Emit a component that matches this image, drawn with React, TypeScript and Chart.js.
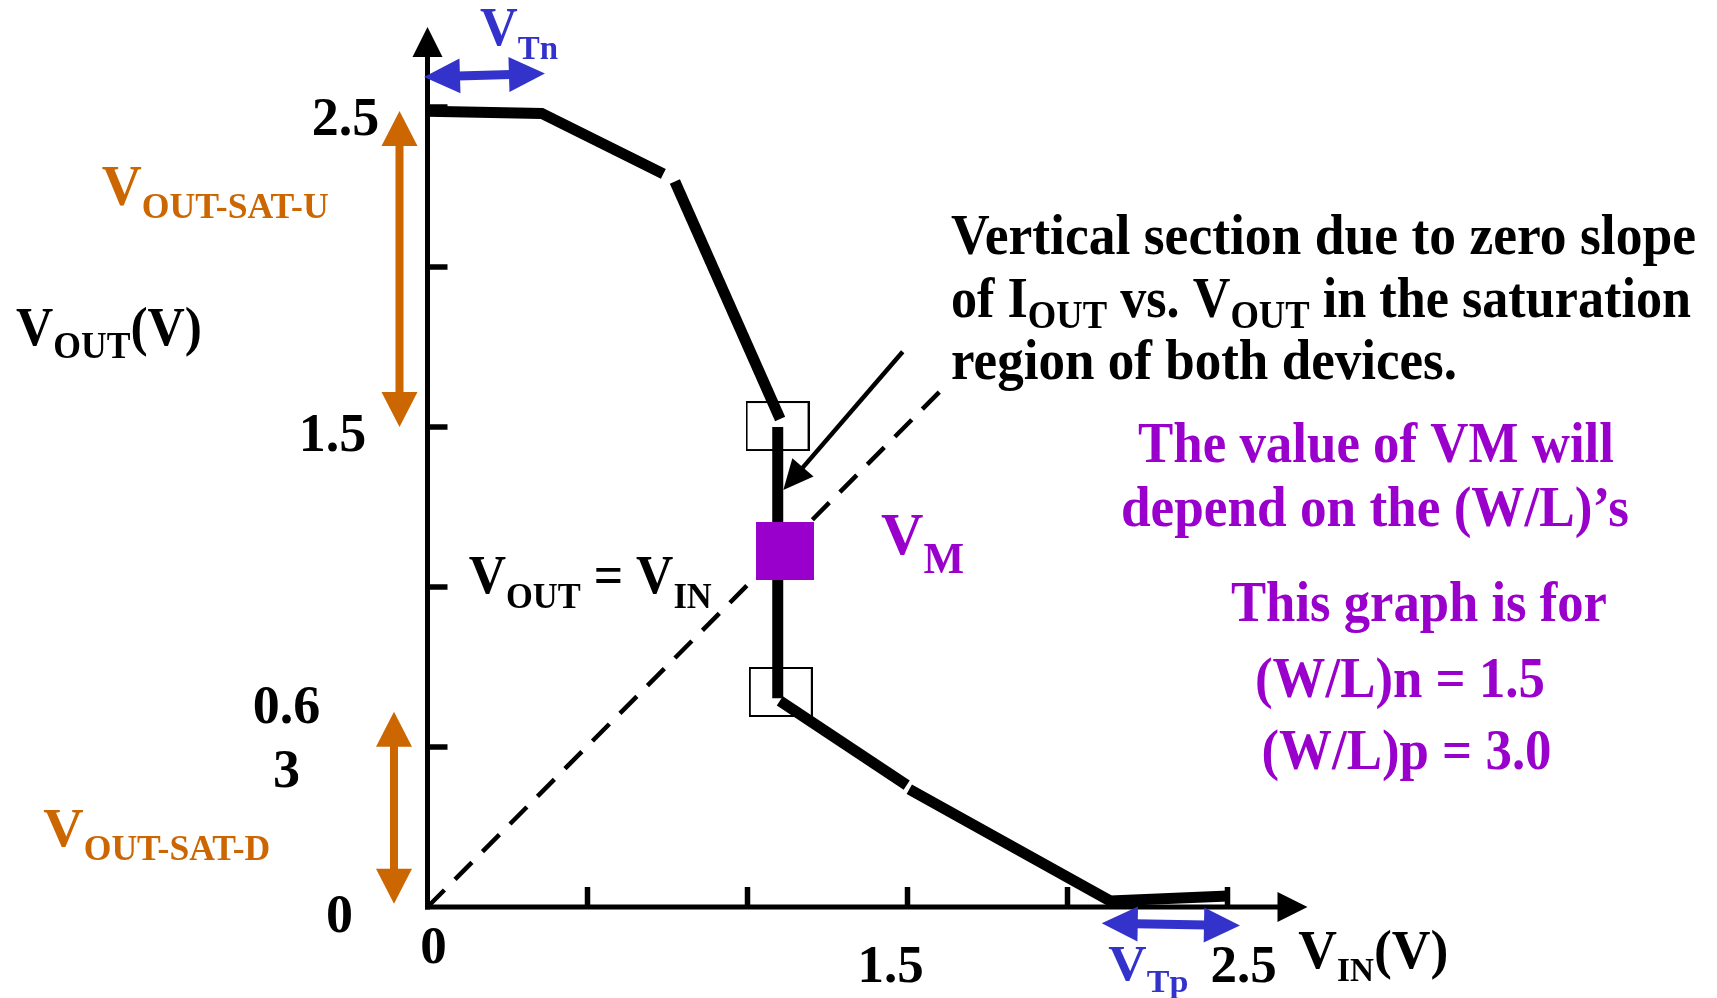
import React, { useEffect, useRef } from "react";
import { Chart, registerables } from "chart.js";

Chart.register(...registerables);

// ---------------- data (V_IN, V_OUT in volts) ----------------
const curveUpperA = [
  { x: 0, y: 2.487 },
  { x: 0.357, y: 2.48 },
  { x: 0.737, y: 2.291 },
];
const curveUpperB = [
  { x: 0.773, y: 2.267 },
  { x: 1.102, y: 1.525 },
];
const curveVertical = [
  { x: 1.0945, y: 1.5 },
  { x: 1.0945, y: 0.652 },
];
const curveLowerA = [
  { x: 1.101, y: 0.644 },
  { x: 1.4975, y: 0.381 },
];
const curveLowerB = [
  { x: 1.5056, y: 0.368 },
  { x: 2.133, y: 0.019 },
  { x: 2.5016, y: 0.0344 },
];
const unityLine = [
  { x: 0, y: 0 },
  { x: 1.61, y: 1.62 },
];
const saturationCorners = [
  { x: 1.0938, y: 1.5031 },
  { x: 1.1041, y: 0.6719 },
];
const switchingPoint = [{ x: 1.1172, y: 1.1125 }];

const xTickValues = [0.5, 1, 1.5, 2, 2.5];
const yTickValues = [0.5, 1, 1.5, 2, 2.5];
const xTickLabelValues = [0, 1.5, 2.5];
const xTickLabelTexts = ["0", "1.5", "2.5"];
const yTickLabelValues = [2.5, 1.5, 0.63, 0];
const yTickLabelTexts = ["2.5", "1.5", "0.6\n3", "0"];

const X_MAX = 2.75;
const Y_MAX = 2.75;

// ---------------- styling / layout ----------------
const BLACK = "#000000";
const ORANGE = "#CC6600";
const BLUE = "#3333CC";
const PURPLE = "#9900CC";
const FONT = '"Liberation Serif", "Times New Roman", serif';

// pixel offsets of tick labels relative to their tick (dx = centre, dy = baseline)
const xTickLabelOffsets = [
  { dx: 6, dy: 56 },
  { dx: -17, dy: 75 },
  { dx: 16, dy: 75 },
];
const yTickLabelOffsets = [
  { dx: -82, dy: 28 },
  { dx: -95, dy: 24 },
  { dx: -141, dy: 18 },
  { dx: -88, dy: 25 },
];

// arrows, in data coordinates
const arrows = [
  { from: [-0.0875, 2.4875], to: [-0.0875, 1.5], color: ORANGE, w: 8, hl: 35, hw: 36, dbl: true },
  { from: [-0.1047, 0.61], to: [-0.1047, 0.01], color: ORANGE, w: 8, hl: 35, hw: 36, dbl: true },
  { from: [-0.011, 2.594], to: [0.367, 2.605], color: BLUE, w: 9, hl: 36, hw: 35, dbl: true },
  { from: [2.107, -0.051], to: [2.539, -0.058], color: BLUE, w: 9, hl: 36, hw: 35, dbl: true },
  { from: [1.485, 1.735], to: [1.112, 1.303], color: BLACK, w: 4.5, hl: 30, hw: 28, dbl: false },
];

type Run = [string, number?];
interface Note {
  runs: Run[];
  at: [number, number];
  size: number;
  sub?: number;
  subDy?: number;
  color: string;
  width?: number;
}

const notes: Note[] = [
  { runs: [["V"], ["Tn", 1]], at: [0.1641, 2.6938], size: 54, sub: 34, subDy: 14, color: BLUE, width: 78 },
  { runs: [["V"], ["OUT-SAT-U", 1]], at: [-1.0181, 2.1938], size: 56, sub: 36, subDy: 13, color: ORANGE, width: 227 },
  { runs: [["V"], ["OUT", 1], ["(V)"]], at: [-1.2859, 1.7563], size: 55, sub: 38, subDy: 13, color: BLACK, width: 186 },
  { runs: [["V"], ["OUT-SAT-D", 1]], at: [-1.2006, 0.1916], size: 55, sub: 35, subDy: 14, color: ORANGE, width: 227 },
  { runs: [["V"], ["IN", 1], ["(V)"]], at: [2.7213, -0.1916], size: 55, sub: 34, subDy: 13, color: BLACK, width: 150 },
  { runs: [["V"], ["Tp", 1]], at: [2.1275, -0.2281], size: 50, sub: 32, subDy: 12, color: BLUE, width: 80 },
  { runs: [["V"], ["OUT", 1], [" = V"], ["IN", 1]], at: [0.1288, 0.9797], size: 54, sub: 36, subDy: 15, color: BLACK, width: 243 },
  { runs: [["V"], ["M", 1]], at: [1.4172, 1.1031], size: 60, sub: 44, subDy: 19, color: PURPLE, width: 83 },
  { runs: [["Vertical section due to zero slope"]], at: [1.6359, 2.0406], size: 57, color: BLACK, width: 745 },
  {
    runs: [["of I"], ["OUT", 1], [" vs. V"], ["OUT", 1], [" in the saturation"]],
    at: [1.6359, 1.8453], size: 57, sub: 40, subDy: 11, color: BLACK, width: 740,
  },
  { runs: [["region of both devices."]], at: [1.6359, 1.65], size: 57, color: BLACK, width: 506 },
  { runs: [["The value of VM will"]], at: [2.2203, 1.3906], size: 56, color: PURPLE, width: 476 },
  { runs: [["depend on the (W/L)\u2019s"]], at: [2.1672, 1.1919], size: 56, color: PURPLE, width: 508 },
  { runs: [["This graph is for"]], at: [2.5109, 0.8938], size: 56, color: PURPLE, width: 376 },
  { runs: [["(W/L)n = 1.5"]], at: [2.5859, 0.6578], size: 56, color: PURPLE, width: 290 },
  { runs: [["(W/L)p = 3.0"]], at: [2.6063, 0.4297], size: 56, color: PURPLE, width: 290 },
];

function drawRich(ctx: CanvasRenderingContext2D, n: Note, px: number, py: number) {
  ctx.save();
  ctx.fillStyle = n.color;
  ctx.textAlign = "left";
  ctx.textBaseline = "alphabetic";
  const fontFor = (r: Run) => `bold ${r[1] ? n.sub : n.size}px ${FONT}`;
  let total = 0;
  for (const r of n.runs) {
    ctx.font = fontFor(r);
    total += ctx.measureText(r[0]).width;
  }
  const s = n.width ? n.width / total : 1;
  ctx.translate(px, py);
  ctx.scale(s, 1);
  let cx = 0;
  for (const r of n.runs) {
    ctx.font = fontFor(r);
    ctx.fillText(r[0], cx, r[1] ? n.subDy || 0 : 0);
    cx += ctx.measureText(r[0]).width;
  }
  ctx.restore();
}

function drawArrow(
  ctx: CanvasRenderingContext2D,
  x1: number, y1: number, x2: number, y2: number,
  color: string, w: number, hl: number, hw: number, dbl: boolean
) {
  const dx = x2 - x1, dy = y2 - y1;
  const len = Math.hypot(dx, dy);
  const ux = dx / len, uy = dy / len;
  const nx = -uy, ny = ux;
  ctx.save();
  ctx.fillStyle = color;
  ctx.strokeStyle = color;
  ctx.lineWidth = w;
  ctx.lineCap = "butt";
  const sx = dbl ? x1 + ux * (hl - 2) : x1;
  const sy = dbl ? y1 + uy * (hl - 2) : y1;
  const ex = x2 - ux * (hl - 2), ey = y2 - uy * (hl - 2);
  ctx.beginPath();
  ctx.moveTo(sx, sy);
  ctx.lineTo(ex, ey);
  ctx.stroke();
  const head = (tx: number, ty: number, dirx: number, diry: number) => {
    const bx = tx - dirx * hl, by = ty - diry * hl;
    ctx.beginPath();
    ctx.moveTo(tx, ty);
    ctx.lineTo(bx + nx * hw / 2, by + ny * hw / 2);
    ctx.lineTo(bx - nx * hw / 2, by - ny * hw / 2);
    ctx.closePath();
    ctx.fill();
  };
  head(x2, y2, ux, uy);
  if (dbl) head(x1, y1, -ux, -uy);
  ctx.restore();
}

const axesPlugin = {
  id: "customAxes",
  beforeDatasetsDraw(chart: any) {
    const { ctx } = chart;
    const xs = chart.scales.x, ys = chart.scales.y;
    const x0 = xs.getPixelForValue(0), y0 = ys.getPixelForValue(0);
    const xEnd = xs.getPixelForValue(X_MAX), yEnd = ys.getPixelForValue(Y_MAX);
    ctx.save();
    ctx.strokeStyle = BLACK;
    ctx.fillStyle = BLACK;
    ctx.lineCap = "butt";
    ctx.lineWidth = 5;
    ctx.beginPath();
    ctx.moveTo(x0, y0 + 2.5);
    ctx.lineTo(x0, yEnd + 28);
    ctx.stroke();
    ctx.beginPath();
    ctx.moveTo(x0 - 2.5, y0);
    ctx.lineTo(xEnd - 28, y0);
    ctx.stroke();
    ctx.beginPath();
    ctx.moveTo(x0, yEnd);
    ctx.lineTo(x0 - 15, yEnd + 30);
    ctx.lineTo(x0 + 15, yEnd + 30);
    ctx.closePath();
    ctx.fill();
    ctx.beginPath();
    ctx.moveTo(xEnd, y0);
    ctx.lineTo(xEnd - 30, y0 - 15);
    ctx.lineTo(xEnd - 30, y0 + 15);
    ctx.closePath();
    ctx.fill();
    ctx.lineWidth = 5.5;
    for (const v of xTickValues) {
      const px = xs.getPixelForValue(v);
      ctx.beginPath();
      ctx.moveTo(px, y0);
      ctx.lineTo(px, y0 - 20);
      ctx.stroke();
    }
    for (const v of yTickValues) {
      const py = ys.getPixelForValue(v);
      ctx.beginPath();
      ctx.moveTo(x0, py);
      ctx.lineTo(x0 + 20, py);
      ctx.stroke();
    }
    // tick labels
    ctx.font = `bold 53px ${FONT}`;
    ctx.textAlign = "center";
    ctx.textBaseline = "alphabetic";
    xTickLabelValues.forEach((v, i) => {
      const px = xs.getPixelForValue(v) + xTickLabelOffsets[i].dx;
      ctx.fillText(xTickLabelTexts[i], px, y0 + xTickLabelOffsets[i].dy);
    });
    ctx.font = `bold 54px ${FONT}`;
    yTickLabelValues.forEach((v, i) => {
      const py = ys.getPixelForValue(v) + yTickLabelOffsets[i].dy;
      const px = x0 + yTickLabelOffsets[i].dx;
      yTickLabelTexts[i].split("\n").forEach((line, k) => {
        ctx.fillText(line, px, py + k * 64);
      });
    });
    ctx.restore();
  },
  afterDatasetsDraw(chart: any) {
    const { ctx } = chart;
    const xs = chart.scales.x, ys = chart.scales.y;
    for (const a of arrows) {
      drawArrow(
        ctx,
        xs.getPixelForValue(a.from[0]), ys.getPixelForValue(a.from[1]),
        xs.getPixelForValue(a.to[0]), ys.getPixelForValue(a.to[1]),
        a.color, a.w, a.hl, a.hw, a.dbl
      );
    }
    for (const n of notes) {
      drawRich(ctx, n, xs.getPixelForValue(n.at[0]), ys.getPixelForValue(n.at[1]));
    }
  },
};

export default function App() {
  const ref = useRef<HTMLCanvasElement>(null);
  useEffect(() => {
    if (!ref.current) return;
    const box = document.createElement("canvas");
    box.width = 64;
    box.height = 50;
    const bctx = box.getContext("2d")!;
    bctx.strokeStyle = BLACK;
    bctx.lineWidth = 2;
    bctx.strokeRect(1, 1, 62, 48);

    const line = (data: any[], width: number, order: number, extra: any = {}) => ({
      data,
      showLine: true,
      borderColor: BLACK,
      backgroundColor: BLACK,
      borderWidth: width,
      pointRadius: 0,
      borderCapStyle: "butt",
      borderJoinStyle: "miter",
      clip: false,
      order,
      ...extra,
    });

    const chart = new Chart(ref.current, {
      type: "scatter",
      data: {
        datasets: [
          line(unityLine, 4.5, 6, { borderDash: [24, 15] }),
          line(curveUpperA, 11, 4),
          line(curveUpperB, 11, 4),
          line(curveVertical, 11, 4),
          line(curveLowerA, 11, 4),
          line(curveLowerB, 11, 4),
          {
            data: saturationCorners,
            showLine: false,
            pointStyle: box,
            pointRadius: 5,
            clip: false,
            order: 2,
          },
          {
            data: switchingPoint,
            showLine: false,
            pointStyle: "rect",
            pointRadius: 41,
            backgroundColor: PURPLE,
            borderColor: PURPLE,
            pointBorderWidth: 0,
            clip: false,
            order: 1,
          },
        ] as any,
      },
      options: {
        responsive: false,
        maintainAspectRatio: false,
        devicePixelRatio: 1,
        animation: false,
        events: [],
        layout: { autoPadding: false, padding: { left: 427.5, right: 409.5, top: 27, bottom: 91 } },
        scales: {
          x: { type: "linear", min: 0, max: X_MAX, display: false },
          y: { type: "linear", min: 0, max: Y_MAX, display: false },
        },
        plugins: { legend: { display: false }, tooltip: { enabled: false } },
      },
      plugins: [axesPlugin],
    });
    return () => chart.destroy();
  }, []);

  return (
    <div style={{ position: "fixed", left: 0, top: 0, width: 1717, height: 998, background: "#fff" }}>
      <canvas ref={ref} width={1717} height={998} style={{ display: "block" }} />
    </div>
  );
}
